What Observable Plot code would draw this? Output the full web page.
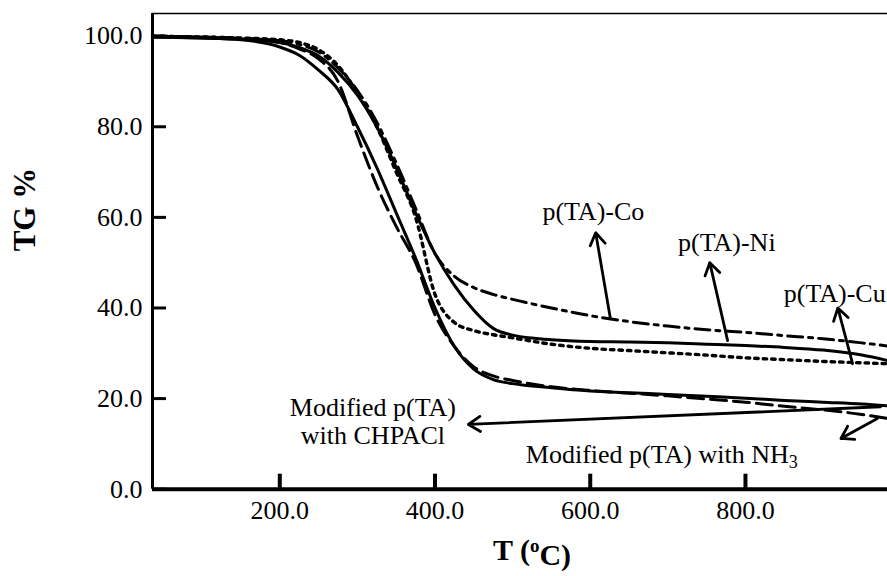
<!DOCTYPE html>
<html><head><meta charset="utf-8">
<script src="https://cdn.jsdelivr.net/npm/d3@7"></script>
<script src="https://cdn.jsdelivr.net/npm/@observablehq/plot@0.6"></script>
<style>body{margin:0;background:#fff} svg{display:block}</style>
</head><body><div id="chart"></div>
<script>
// Temperature grid (°C) shared by all series
const temps    = [36,100,150,200,225,250,275,300,325,350,375,400,425,450,475,500,550,600,650,700,750,800,850,900,950,983];
// TG % values
const tgCo     = [100,99.8,99.5,99.0,98.2,96.5,93.0,88.0,81.0,72.0,62.0,52.0,47.0,44.5,43.0,41.9,40.0,38.3,37.0,36.0,35.2,34.6,33.9,33.2,32.3,31.6];
const tgNi     = [99.8,99.6,99.3,98.6,97.5,95.6,92.0,87.0,80.0,71.0,61.0,52.0,45.0,39.5,35.5,34.0,33.0,32.6,32.5,32.3,32.0,31.7,31.3,30.7,29.6,28.4];
const tgCu     = [100,99.8,99.6,99.2,98.6,97.0,93.5,87.5,80.0,70.0,60.0,43.0,36.8,35.0,34.1,33.4,32.0,31.1,30.6,30.1,29.6,29.0,28.6,28.2,27.9,27.7];
const tgCHPACl = [99.8,99.6,99.2,97.6,95.8,92.5,88.2,80.0,71.0,61.0,51.0,40.0,31.5,26.5,24.2,23.3,22.4,21.7,21.3,20.9,20.5,20.1,19.6,19.2,18.8,18.4];
const tgNH3    = [100,99.8,99.5,98.6,97.2,95.0,90.0,78.0,67.0,58.0,50.0,38.5,31.5,27.0,25.0,24.0,22.6,21.8,21.2,20.6,19.9,19.2,18.3,17.5,16.5,15.6];

const xTicks = [200,400,600,800];
const yTicks = [0,20,40,60,80,100];

// Annotations (data coordinates)
const labelText   = ["p(TA)-Co","p(TA)-Ni","p(TA)-Cu","Modified p(TA)\nwith CHPACl","Modified p(TA) with NH3"];
const labelX      = [604, 776, 915, 320, 517];
const labelY      = [61.5, 54.5, 43.4, 15.0, 7.7];
const labelAnchor = ["middle","middle","middle","middle","start"];
const arrowFromX  = [626, 777, 938, 974, 970];
const arrowFromY  = [37.6, 32.8, 27.7, 18.2, 15.6];
const arrowToX    = [607, 754, 919, 443, 923];
const arrowToY    = [56.6, 50.0, 40.0, 14.3, 11.2];

const seriesDefs = [
  {name:"p(TA)-Co", values: tgCo, dash:"15,6,4,6", sw:3},
  {name:"p(TA)-Ni", values: tgNi, dash:null, sw:3},
  {name:"p(TA)-Cu", values: tgCu, dash:"3.5,5", sw:3.4},
  {name:"CHPACl",   values: tgCHPACl, dash:null, sw:3},
  {name:"NH3",      values: tgNH3, dash:"16,7", sw:3}
];

const W = 887, H = 576;
const mT = 13, mB = 87.3, mL = 152, mR = 0;
const frameH = H - mT - mB, frameW = W - mL - mR;
const serif = "'Liberation Serif','Times New Roman',serif";

const labels = labelText.map((t,i)=>({t, x:labelX[i], y:labelY[i], a:labelAnchor[i]}));
const arrows = arrowFromX.map((_,i)=>({x1:arrowFromX[i], y1:arrowFromY[i], x2:arrowToX[i], y2:arrowToY[i]}));

const lineMarks = seriesDefs.map(s => {
  const rows = temps.map((t,i)=>({T:t, TG:s.values[i]}));
  const opts = {x:"T", y:"TG", stroke:"black", strokeWidth:s.sw, curve:"monotone-x"};
  if (s.dash) { opts.strokeDasharray = s.dash; }
  return Plot.line(rows, opts);
});

const svg = Plot.plot({
  width: W, height: H,
  marginTop: mT, marginBottom: mB, marginLeft: mL, marginRight: mR,
  style: {fontFamily: serif, background: "white"},
  x: {domain: [36, 983], axis: null},
  y: {domain: [0, 105], axis: null},
  marks: [
    Plot.ruleY([105], {stroke:"black", strokeWidth:1.5}),
    ...lineMarks,
    Plot.ruleX([36], {stroke:"black", strokeWidth:3}),
    Plot.ruleY([0], {stroke:"black", strokeWidth:4}),
    Plot.tickX(xTicks, {x:d=>d, stroke:"black", strokeWidth:4, insetTop: frameH - 15}),
    Plot.tickY(yTicks, {y:d=>d, stroke:"black", strokeWidth:3, insetRight: frameW - 14}),
    Plot.text(xTicks, {x:d=>d, frameAnchor:"bottom", dy:30, text:d=>d.toFixed(1), fontSize:26, fontFamily:serif, fill:"black"}),
    Plot.text(yTicks, {y:d=>d, frameAnchor:"left", dx:-10, textAnchor:"end", text:d=>d.toFixed(1), fontSize:26, fontFamily:serif, fill:"black"}),
    Plot.text(["TG %"], {frameAnchor:"left", dx:-127, rotate:-90, fontSize:31, fontWeight:"bold", fontFamily:serif, fill:"black"}),
    Plot.text(["T (oC)"], {frameAnchor:"bottom", dx:12, dy:71, fontSize:30, fontWeight:"bold", fontFamily:serif, fill:"black"}),
    Plot.arrow(arrows, {x1:"x1", y1:"y1", x2:"x2", y2:"y2", stroke:"black", strokeWidth:2.8, headLength:7.5, headAngle:65}),
    Plot.text(labels.filter(d=>d.a==="middle"), {x:"x", y:"y", text:"t", textAnchor:"middle", lineHeight:1.08, fontSize:26, fontFamily:serif, fill:"black"}),
    Plot.text(labels.filter(d=>d.a==="start"), {x:"x", y:"y", text:"t", textAnchor:"start", fontSize:26, fontFamily:serif, fill:"black"})
  ]
});

// sub/superscripts
d3.select(svg).selectAll("text").each(function(){
  const el = d3.select(this);
  const txt = this.textContent;
  if (txt === "Modified p(TA) with NH3") {
    el.text("Modified p(TA) with NH");
    el.append("tspan").attr("dy", "0.28em").attr("font-size", "18px").text("3");
  } else if (txt === "T (oC)") {
    el.text("T (");
    el.append("tspan").attr("dy", "-0.45em").attr("font-size", "19px").text("o");
    el.append("tspan").attr("dy", "0.45em").text("C)");
  }
});

document.getElementById("chart").appendChild(svg);
</script>
</body></html>
